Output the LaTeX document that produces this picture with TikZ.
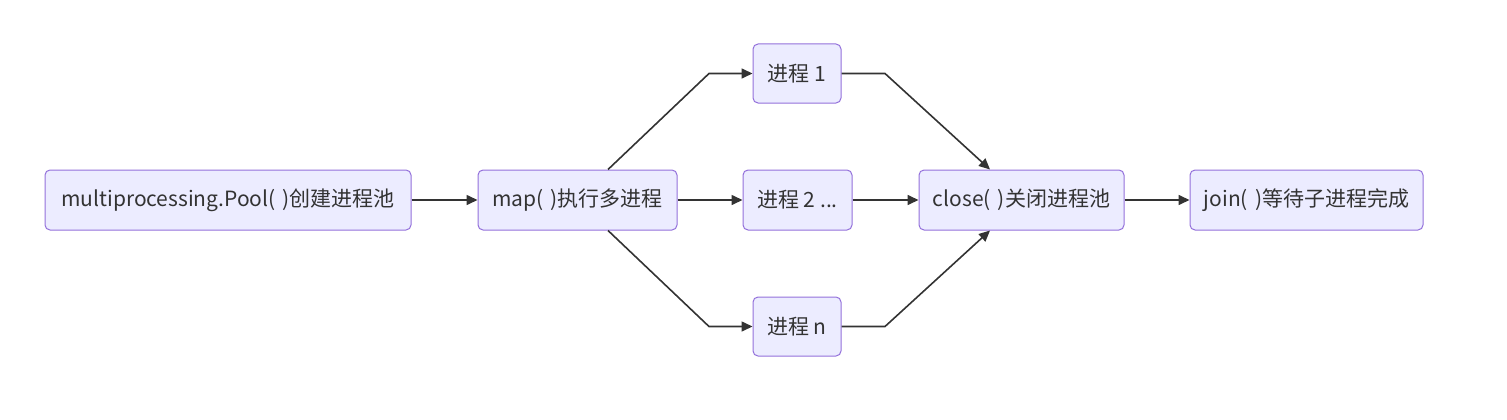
\documentclass[tikz,border=0pt]{standalone}
\usepackage{fontspec}
\setmainfont{Noto Sans CJK SC}
\usetikzlibrary{arrows.meta}
\definecolor{nodefill}{HTML}{ECECFF}
\definecolor{nodeline}{HTML}{9370DB}
\definecolor{edgeline}{HTML}{333333}
\begin{document}
\begin{tikzpicture}[x=1pt,y=-1pt,
  box/.style={draw=nodeline,fill=nodefill,line width=1pt,rounded corners=5pt,
    minimum height=60pt,inner sep=0pt,font=\fontsize{21pt}{25pt}\selectfont,text=edgeline},
  edge/.style={draw=edgeline,line width=1.6pt,-{Triangle[length=11pt,width=10pt]}}]
\useasboundingbox (0,0) rectangle (1507,420);
\node[box,minimum width=366pt] (A) at (228,200) {multiprocessing.Pool(\,\,)创建进程池};
\node[box,minimum width=199pt] (B) at (577.5,200) {map(\,\,)执行多进程};
\node[box,minimum width=88pt,minimum height=59pt] (P1) at (797,73.5) {进程 1};
\node[box,minimum width=109pt] (P2) at (797.5,200) {进程 2 ...};
\node[box,minimum width=88pt,minimum height=59pt] (Pn) at (797,326.5) {进程 n};
\node[box,minimum width=205pt] (C) at (1021.5,200) {close(\,\,)关闭进程池};
\node[box,minimum width=233pt] (D) at (1306.5,200) {join(\,\,)等待子进程完成};
\draw[edge] (A) -- (B);
\draw[edge] (B) -- (P2);
\draw[edge] (P2) -- (C);
\draw[edge] (C) -- (D);
\draw[edge] ([xshift=30.5pt]B.north) -- (709,73.5) -- (P1.west);
\draw[edge] ([xshift=30.5pt]B.south) -- (709,326.5) -- (Pn.west);
\draw[edge] (P1.east) -- (885,73.5) -- ([xshift=-31.5pt]C.north);
\draw[edge] (Pn.east) -- (885,326.5) -- ([xshift=-31.5pt]C.south);
\end{tikzpicture}
\end{document}
